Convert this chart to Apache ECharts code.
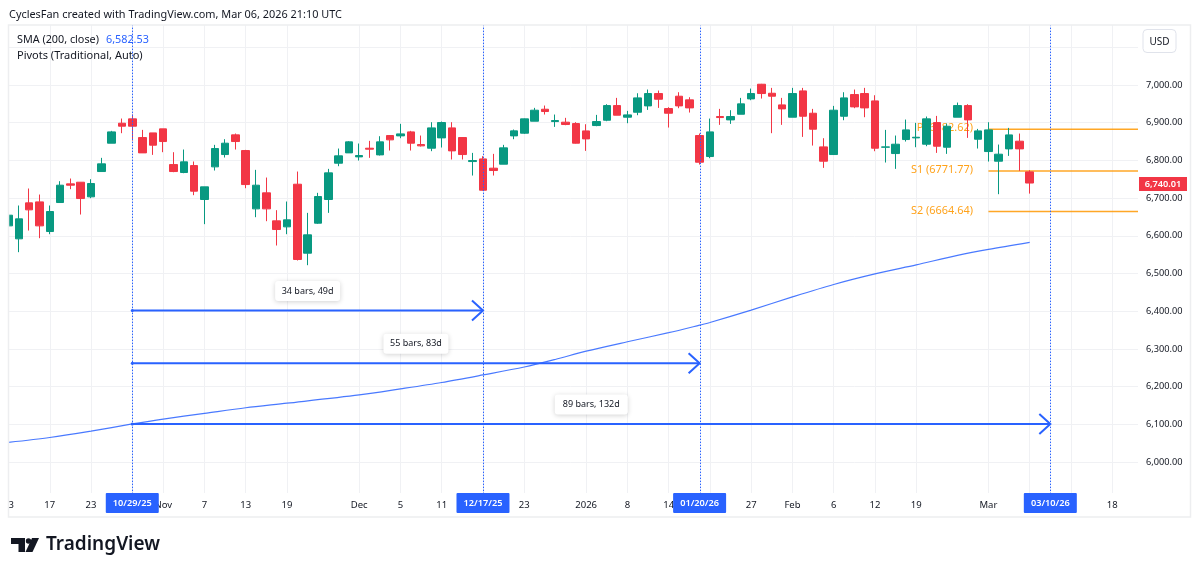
<![CDATA[<!DOCTYPE html>
<html><head><meta charset="utf-8">
<style>html,body{margin:0;padding:0;background:#fff}#c{width:1200px;height:574px}</style>
<script src="https://cdn.jsdelivr.net/npm/echarts@6/dist/echarts.min.js"></script>
</head><body><div id="c"></div>
<script>
const categories = [
'2025-10-13','2025-10-14','2025-10-15','2025-10-16','2025-10-17','2025-10-20','2025-10-21','2025-10-22','2025-10-23','2025-10-24','2025-10-27','2025-10-28','2025-10-29','2025-10-30','2025-10-31',
'2025-11-03','2025-11-04','2025-11-05','2025-11-06','2025-11-07','2025-11-10','2025-11-11','2025-11-12','2025-11-13','2025-11-14','2025-11-17','2025-11-18','2025-11-19','2025-11-20','2025-11-21','2025-11-24','2025-11-25','2025-11-26','2025-11-28',
'2025-12-01','2025-12-02','2025-12-03','2025-12-04','2025-12-05','2025-12-08','2025-12-09','2025-12-10','2025-12-11','2025-12-12','2025-12-15','2025-12-16','2025-12-17','2025-12-18','2025-12-19','2025-12-22','2025-12-23','2025-12-24','2025-12-26','2025-12-29','2025-12-30','2025-12-31',
'2026-01-02','2026-01-05','2026-01-06','2026-01-07','2026-01-08','2026-01-09','2026-01-12','2026-01-13','2026-01-14','2026-01-15','2026-01-16','2026-01-20','2026-01-21','2026-01-22','2026-01-23','2026-01-26','2026-01-27','2026-01-28','2026-01-29','2026-01-30',
'2026-02-02','2026-02-03','2026-02-04','2026-02-05','2026-02-06','2026-02-09','2026-02-10','2026-02-11','2026-02-12','2026-02-13','2026-02-17','2026-02-18','2026-02-19','2026-02-20','2026-02-23','2026-02-24','2026-02-25','2026-02-26','2026-02-27',
'2026-03-02','2026-03-03','2026-03-04','2026-03-05','2026-03-06','2026-03-09','2026-03-10','2026-03-11','2026-03-12','2026-03-13','2026-03-16','2026-03-17','2026-03-18','2026-03-19','2026-03-20'];

const opens = [6626.4,6592,6687.4,6690,6611.4,6688.3,6737.8,6742.2,6703.4,6770.5,6845.7,6898.7,6910.2,6860.7,6873,6883.7,6789,6767.9,6786.4,6696.3,6782.9,6815.6,6867.8,6826.2,6671.5,6714,6639.7,6623.8,6736.9,6553.9,6633.5,6696.3,6792.6,6820,6809.4,6832.4,6814.7,6866,6865.1,6875.7,6842.1,6832.4,6859.8,6886.3,6860.7,6797,6804,6779.4,6790,6865.1,6872.2,6904,6935.8,6903.1,6901.4,6897.8,6878.3,6892.5,6906.6,6945.5,6914.6,6927.8,6944.6,6977.4,6937.6,6970.3,6960.6,6866,6810.3,6916.4,6907.5,6922.5,6963.2,7002.1,6978.2,6947.3,6914.6,6984.4,6925.2,6835.9,6815.6,6917.2,6974.7,6977.4,6957.9,6835,6818.2,6855.4,6859.8,6843,6900.4,6835,6914.6,6945.5,6856.2,6823.5,6797.9,6830.6,6851,6769.6];
const closes = [6654.7,6645,6668.9,6626.4,6664.5,6734.3,6734.3,6698.9,6738.7,6790.9,6875.7,6890.8,6890.8,6820,6840.4,6850.1,6770.5,6796.2,6718.4,6729.9,6831.5,6845.7,6850.1,6736,6734.3,6671.5,6616.7,6642.4,6537.2,6602.6,6704.2,6767,6812.1,6849.2,6813,6829.8,6849.2,6854.5,6870.4,6845.7,6838.6,6886.3,6900.5,6825.3,6815.6,6799.7,6721,6773.2,6833.3,6878.4,6910.2,6933.2,6929.7,6905.8,6895.2,6845.7,6857.1,6903.1,6945.5,6919.9,6920.8,6965.9,6977.4,6962.3,6925.2,6944.6,6939.3,6795.2,6875.7,6913.7,6916.4,6950,6977.4,6977.4,6970.3,6936.7,6977.4,6917.2,6882.8,6797.9,6933.2,6965.9,6942,6939.3,6832.4,6835.9,6843,6881,6861.5,6910.2,6837.7,6890.7,6945.5,6907.5,6878.3,6881,6816.5,6867.7,6830.6,6740.01];
const lows = [6625.6,6556.6,6614,6593.7,6604.3,6688.3,6723.7,6656.5,6699.8,6770.5,6845.7,6872.2,6852.7,6820,6814.7,6821.8,6768.8,6766.1,6707.8,6630.9,6773.2,6807.7,6828.9,6726.3,6649.4,6638.8,6574.3,6604.3,6534.5,6522.1,6631.7,6660.9,6784.7,6820,6799.7,6806.8,6813,6826.2,6858.9,6826.2,6836.8,6824.5,6834.2,6802.4,6802.4,6759.9,6720.1,6759.9,6790,6856.3,6870.4,6904,6921.7,6889,6893.4,6844.8,6825.3,6890.7,6904,6919.9,6898.7,6919.9,6934,6939.3,6887.2,6938.5,6927,6789.1,6805.9,6894.3,6896.9,6922.5,6959.7,6964.1,6872.2,6894.3,6914.6,6862.4,6839.4,6780.2,6814.7,6906.6,6938.5,6914.6,6824.4,6794.4,6777.6,6850.1,6835,6837.7,6820,6817.4,6914.6,6859.8,6831.5,6797,6710.4,6812,6772.3,6712];
const highs = [6656.5,6680.4,6725.5,6709.5,6680.4,6744.9,6752,6742.2,6750.2,6806.8,6878.4,6911.1,6921.7,6881,6873,6883.7,6821.8,6828.9,6797.1,6729.9,6841.3,6856.3,6871.3,6828,6775,6754.6,6668,6691,6770.5,6660.9,6714,6777.6,6831.5,6851,6844.8,6851.9,6864.2,6866.9,6897,6878.4,6866,6901.4,6903.1,6901.4,6861.6,6820,6811.2,6817.4,6841.3,6881.9,6911.1,6939.4,6945.6,6921.7,6912.9,6901.4,6896,6920.8,6949.1,6965.9,6931.4,6978.2,6988,6985.3,6941.1,6980.9,6967.6,6871.3,6911,6936.7,6933.2,6965.9,6990.6,7003,6992.4,6965.9,6992.4,6992.4,6936.7,6858.9,6944.6,6980.9,6988,6992.4,6972.9,6881,6866,6908.4,6899.6,6916.4,6918.1,6897.8,6953.5,6949.1,6883.6,6901.3,6842.1,6886.3,6871.3,6774];

const smaDates = ['2025-10-13','2025-10-17','2025-10-23','2025-10-29','2025-11-03','2025-11-07','2025-11-13','2025-11-19','2025-12-01','2025-12-05','2025-12-11','2025-12-17','2025-12-23','2025-12-29','2026-01-02','2026-01-08','2026-01-14','2026-01-20','2026-01-21','2026-01-27','2026-02-02','2026-02-06','2026-02-12','2026-02-19','2026-02-25','2026-03-02','2026-03-06'];
const smaValues = [6052,6065,6082,6101,6114,6129,6144,6156,6178,6194,6211,6231,6252,6272,6294,6319,6343,6363,6370,6403,6438,6471,6499,6523,6548,6564,6582.53];

const tickLabels = {'2025-10-13':'13','2025-10-17':'17','2025-10-23':'23','2025-11-03':'Nov','2025-11-07':'7','2025-11-13':'13','2025-11-19':'19','2025-12-01':'Dec','2025-12-05':'5','2025-12-11':'11','2025-12-23':'23','2026-01-02':'2026','2026-01-08':'8','2026-01-14':'14','2026-01-27':'27','2026-02-02':'Feb','2026-02-06':'6','2026-02-12':'12','2026-02-19':'19','2026-03-02':'Mar','2026-03-18':'18'};
const hiddenTickDates = ['2025-10-29','2025-12-17','2026-01-21','2026-03-06','2026-03-12'];

const pivotNames = ['P (6882.62)','S1 (6771.77)','S2 (6664.64)'];
const pivotValues = [6882.62,6771.77,6664.64];
const pivotStart = '2026-03-02';

const cycleStart = '2025-10-29';
const cycleDates = ['2025-12-17','2026-01-20','2026-03-10'];
const cycleValues = [6402,6262,6101];
const cycleLabels = ['34 bars, 49d','55 bars, 83d','89 bars, 132d'];
const cycleDateLabels = ['10/29/25','12/17/25','01/20/26','03/10/26'];

const FONT = '"Noto Sans"';
const BLUE = '#2962FF', GREEN = '#089981', RED = '#F23645', ORANGE = '#FF9800', GRID = '#F0F1F4', TEXT = '#131722';
const fmt = v => v.toLocaleString('en-US',{minimumFractionDigits:2,maximumFractionDigits:2});
const candles = opens.map((o,i)=>[o,closes[i],lows[i],highs[i]]);
const idx = d => categories.indexOf(d);
const allMarks = cycleDateLabels.map((_,i)=> i===0 ? cycleStart : cycleDates[i-1]);

const chart = echarts.init(document.getElementById('c'), null, {renderer:'canvas'});
chart.setOption({
  animation:false,
  backgroundColor:'#fff',
  textStyle:{fontFamily:FONT},
  grid:{left:3.34,top:9.62,width:1134.66,height:490.1},
  xAxis:{type:'category',data:categories,boundaryGap:true,
    axisLine:{show:false},axisTick:{show:false},
    axisLabel:{show:true,margin:0,fontSize:9.5,color:TEXT,fontFamily:FONT,hideOverlap:false,lineHeight:11,
      interval:(i,v)=>tickLabels[v]!==undefined,formatter:v=>tickLabels[v]||''},
    splitLine:{show:true,alignWithLabel:true,lineStyle:{color:GRID,width:1},
      interval:(i,v)=>tickLabels[v]!==undefined||hiddenTickDates.includes(v)}},
  yAxis:{type:'value',position:'right',min:5900,max:7200,interval:100,scale:true,
    axisLine:{show:false},axisTick:{show:false},
    axisLabel:{margin:8,fontSize:9.2,color:TEXT,fontFamily:FONT,padding:[0,0,2,0],
      formatter:v=>(v<6000||v>7000)?'':fmt(v)},
    splitLine:{show:true,showMinLine:false,showMaxLine:false,lineStyle:{color:GRID,width:1}}},
  series:[
    {name:'Pivots',type:'custom',z:1,clip:false,silent:true,
      data:pivotValues.map(v=>[idx(pivotStart),v]),encode:{x:0,y:1},
      renderItem:(p,api)=>{
        const a=api.coord([api.value(0),api.value(1)]);
        const right=p.coordSys.x+p.coordSys.width;
        return {type:'group',children:[
          {type:'line',shape:{x1:a[0],y1:a[1],x2:right,y2:a[1]},style:{stroke:ORANGE,lineWidth:1.5,opacity:.85}},
          {type:'text',style:{x:a[0]-15.5,y:a[1]-1,text:pivotNames[p.dataIndex],align:'right',verticalAlign:'middle',
            fill:ORANGE,opacity:.9,font:'10.9px '+FONT}}]};
      }},
    {name:'Price',type:'candlestick',z:2,barWidth:8,data:candles,silent:true,
      itemStyle:{color:GREEN,color0:RED,borderColor:GREEN,borderColor0:RED,borderWidth:1}},
    {name:'SMA (200, close)',type:'line',z:3,data:smaDates.map((d,i)=>[d,smaValues[i]]),symbol:'none',silent:true,smooth:0.3,
      lineStyle:{color:BLUE,width:1.2,opacity:.85}},
    {name:'Cycles',type:'custom',z:4,clip:false,silent:true,
      data:cycleValues.map((v,i)=>[idx(cycleStart),v]),encode:{x:0,y:1},
      renderItem:(p,api)=>{
        const i=p.dataIndex,a=api.coord([api.value(0),api.value(1)]),b=api.coord([idx(cycleDates[i]),api.value(1)]);
        const mid=(a[0]+b[0])/2,w=i===2?73:65,cy=a[1]-19.5;
        return {type:'group',children:[
          {type:'line',shape:{x1:a[0],y1:a[1],x2:b[0],y2:a[1]},style:{stroke:BLUE,lineWidth:2}},
          {type:'circle',shape:{cx:a[0],cy:a[1],r:1.5},style:{fill:BLUE}},
          {type:'polyline',shape:{points:[[b[0]-11,a[1]-10],[b[0],a[1]],[b[0]-11,a[1]+10]]},style:{stroke:BLUE,lineWidth:2,fill:null}},
          {type:'rect',shape:{x:mid-w/2,y:cy-10,width:w,height:20,r:3},style:{fill:'#fff',shadowBlur:5,shadowColor:'rgba(0,0,0,.18)',shadowOffsetY:1}},
          {type:'text',style:{x:mid,y:cy,text:cycleLabels[i],align:'center',verticalAlign:'middle',fill:TEXT,font:'9px '+FONT}}]};
      }},
    {name:'Cycle lines',type:'custom',z:5,clip:false,silent:true,
      data:allMarks.map(d=>[idx(d),6500]),encode:{x:0,y:1},
      renderItem:(p,api)=>{
        const x=Math.round(api.coord([api.value(0),api.value(1)])[0])+.5;
        return {type:'line',shape:{x1:x,y1:p.coordSys.y,x2:x,y2:p.coordSys.y+p.coordSys.height},style:{stroke:BLUE,lineWidth:1,lineDash:[1.5,1.5]}};
      }},
    {name:'Date flags',type:'custom',z:70,clip:false,silent:true,
      data:allMarks.map(d=>[idx(d),6000]),encode:{x:0,y:1},
      renderItem:(p,api)=>{
        const a=api.coord([api.value(0),api.value(1)]);
        return {type:'group',children:[
          {type:'rect',shape:{x:a[0]-26.5,y:493,width:53,height:20,r:1},style:{fill:BLUE}},
          {type:'text',style:{x:a[0],y:503.3,text:cycleDateLabels[p.dataIndex],align:'center',verticalAlign:'middle',fill:'#fff',font:'600 9.2px '+FONT}}]};
      }},
    {name:'Last price',type:'custom',z:70,clip:false,silent:true,
      data:[[idx(categories[99]),closes[99]]],encode:{x:0,y:1},
      renderItem:(p,api)=>{
        const y=api.coord([api.value(0),api.value(1)])[1],r=p.coordSys.x+p.coordSys.width;
        return {type:'group',children:[
          {type:'rect',shape:{x:r+1,y:y-6,width:48,height:14},style:{fill:RED}},
          {type:'text',style:{x:r+25,y:y+1,text:fmt(api.value(1)),align:'center',verticalAlign:'middle',fill:'#fff',font:'600 9.2px '+FONT}}]};
      }}
  ],
  graphic:{elements:[
    {type:'rect',z:50,silent:true,shape:{x:0,y:0,width:1200,height:25},style:{fill:'#fff'}},
    {type:'rect',z:50,silent:true,shape:{x:0,y:25,width:9,height:492},style:{fill:'#fff'}},
    {type:'rect',z:50,silent:true,shape:{x:9,y:493,width:1129,height:7},style:{fill:'#fff'}},
    {type:'rect',z:60,silent:true,shape:{x:8.5,y:25,width:1182,height:492},style:{fill:null,stroke:'#EDEEF0',lineWidth:1.5}},
    {type:'text',z:60,silent:true,x:9,y:15,style:{text:'CyclesFan created with TradingView.com, Mar 06, 2026 21:10 UTC',fill:TEXT,font:'10.9px '+FONT,verticalAlign:'middle'}},
    {type:'text',z:60,silent:true,x:17,y:40,style:{text:'SMA (200, close)',fill:TEXT,font:'10.8px '+FONT,verticalAlign:'middle'}},
    {type:'text',z:60,silent:true,x:106,y:40,style:{text:fmt(smaValues[smaValues.length-1]),fill:BLUE,font:'10.8px '+FONT,verticalAlign:'middle'}},
    {type:'text',z:60,silent:true,x:17,y:56,style:{text:'Pivots (Traditional, Auto)',fill:TEXT,font:'11px '+FONT,verticalAlign:'middle'}},
    {type:'rect',z:60,silent:true,shape:{x:1143,y:29.5,width:33,height:23,r:4},style:{fill:'#fff',stroke:'#E0E3EB',lineWidth:1}},
    {type:'text',z:61,silent:true,x:1159.5,y:42,style:{text:'USD',fill:TEXT,font:'10px '+FONT,align:'center',verticalAlign:'middle'}},
    {type:'polygon',z:60,silent:true,shape:{points:[[11,538],[25,538],[25,552],[18.5,552],[18.5,544],[11,544]]},style:{fill:'#131722'}},
    {type:'polygon',z:60,silent:true,shape:{points:[[32,538],[39,538],[32.5,552],[25.5,552]]},style:{fill:'#131722'}},
    {type:'circle',z:60,silent:true,shape:{cx:28.5,cy:541,r:2.7},style:{fill:'#131722'}},
    {type:'text',z:60,silent:true,x:46,y:545,style:{text:'TradingView',fill:'#131722',font:'600 19px '+FONT,verticalAlign:'middle'}}
  ]}
});
</script></body></html>]]>
